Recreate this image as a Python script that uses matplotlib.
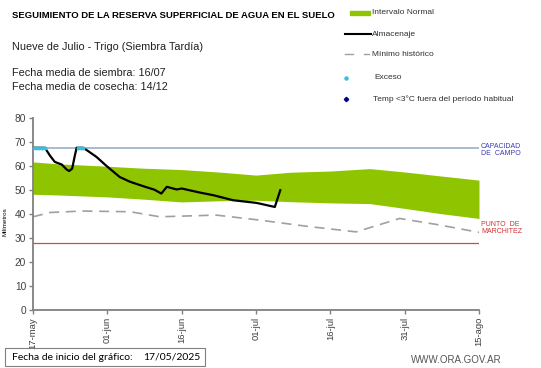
import matplotlib
matplotlib.use("Agg")
import matplotlib.pyplot as plt
from matplotlib.lines import Line2D
from matplotlib.patches import Rectangle

plt.rcParams['font.family'] = ['Liberation Sans', 'DejaVu Sans']

# days counted from 17-may
tick_days = [0, 15, 30, 45, 60, 75, 90]
tick_labels = ['17-may', '01-jun', '16-jun', '01-jul', '16-jul', '31-jul', '15-ago']

# normal interval (green band)
band_days = [0, 5, 15, 22, 30, 38, 45, 52, 60, 68, 75, 82, 90]
band_upper = [61.8, 61.0, 60.0, 59.2, 58.6, 57.5, 56.3, 57.5, 58.0, 59.0, 57.6, 56.0, 54.2]
band_lower = [48.3, 48.0, 47.2, 46.3, 45.1, 45.6, 45.8, 45.2, 44.7, 44.4, 42.4, 40.3, 38.2]

# minimo historico
min_days = [0, 3.5, 10, 19.6, 25.6, 33.7, 37, 45.8, 55, 65.2, 74, 82, 90]
min_vals = [38.9, 40.7, 41.3, 41.0, 38.9, 39.4, 39.6, 37.5, 35.0, 32.6, 38.2, 35.5, 32.4]

# almacenaje
alm_days = [0, 2.4, 3.4, 4.4, 5.8, 6.8, 7.3, 7.9, 8.4, 8.8, 10.1, 11.0, 12.8, 14.9, 17.5, 19.6, 22.5,
            24.5, 25.9, 27.0, 29.0, 30.0, 33.7, 36.4, 40.4, 45.1, 48.8, 49.9]
alm_vals = [67.7, 67.7, 64.5, 61.8, 60.7, 58.6, 58.0, 59.0, 64.0, 67.7, 67.7, 66.5, 63.9, 60.0, 55.5,
            53.5, 51.5, 50.2, 48.6, 51.4, 50.3, 50.7, 49.0, 47.9, 45.8, 44.7, 43.0, 50.0]

# excess points
exc_days = [0, 0.6, 1.2, 1.8, 2.4, 9.0, 9.6, 10.1]
exc_vals = [67.7, 67.7, 67.7, 67.7, 67.7, 67.7, 67.7, 67.7]

capacidad = 67.7
marchitez = 28.0

W, H = 541, 368
fig = plt.figure(figsize=(W / 100, H / 100), dpi=100)


def fx(px):
    return px / W


def fy(py):
    return 1 - py / H


ax = fig.add_axes([fx(33), fy(310), fx(479) - fx(33), fy(118.3) - fy(310)])

ax.fill_between(band_days, band_lower, band_upper, color='#8fc500', linewidth=0)
ax.axhline(capacidad, color='#a3b5cc', linewidth=1.3)
ax.axhline(marchitez, color='#c0504d', linewidth=0.9)
ax.plot(min_days, min_vals, color='#a0a0a0', linewidth=1.2, dashes=(6, 4))
ax.plot(alm_days, alm_vals, color='black', linewidth=1.6, zorder=3)
ax.scatter(exc_days, exc_vals, color='#33c0e0', s=8, zorder=4, linewidths=0)

ax.set_xlim(0, 90)
ax.set_ylim(0, 80)
ax.set_xticks(tick_days)
ax.set_xticklabels(tick_labels, rotation=90, fontsize=6.8, color='#404040')
ax.set_yticks(range(0, 81, 10))
ax.tick_params(axis='y', labelsize=7.3, colors='#404040', length=3, width=1, color='#808080', pad=2)
ax.tick_params(axis='x', length=3, width=1, color='#808080', pad=2)
for s in ['top', 'right']:
    ax.spines[s].set_visible(False)
for s in ['left', 'bottom']:
    ax.spines[s].set_color('#808080')
    ax.spines[s].set_linewidth(1.3)
ax.set_ylabel('Milímetros', fontsize=4.5, labelpad=2)
ax.yaxis.set_label_coords(-0.058, 0.46)

# right side labels
fig.text(fx(481), fy(150), 'CAPACIDAD\nDE  CAMPO', fontsize=5, color='#3a3ab8', va='center', ha='left',
         linespacing=1.1)
fig.text(fx(481), fy(228), 'PUNTO  DE\nMARCHITEZ', fontsize=5, color='#d03030', va='center', ha='left',
         linespacing=1.1)

# texts
fig.text(fx(12), fy(15), 'SEGUIMIENTO DE LA RESERVA SUPERFICIAL DE AGUA EN EL SUELO', fontsize=6.8,
         fontweight='bold', va='center')
fig.text(fx(12), fy(47), 'Nueve de Julio - Trigo (Siembra Tardía)', fontsize=7.8, va='center', color='#202020')
fig.text(fx(12), fy(73), 'Fecha media de siembra: 16/07', fontsize=7.8, va='center', color='#202020')
fig.text(fx(12), fy(87), 'Fecha media de cosecha: 14/12', fontsize=7.8, va='center', color='#202020')

# legend
fig.add_artist(Rectangle((fx(350), fy(15)), fx(370) - fx(350), fy(11) - fy(15), color='#8fc500',
                         transform=fig.transFigure))
fig.add_artist(Line2D([fx(345), fx(371)], [fy(34), fy(34)], color='black', linewidth=1.5,
                      transform=fig.transFigure))
fig.add_artist(Line2D([fx(345), fx(353)], [fy(54), fy(54)], color='#a0a0a0', linewidth=1.0,
                      transform=fig.transFigure))
fig.add_artist(Line2D([fx(364), fx(369)], [fy(54), fy(54)], color='#a0a0a0', linewidth=1.0,
                      transform=fig.transFigure))
fig.add_artist(Line2D([fx(346)], [fy(77.5)], marker='o', markersize=2.2, color='#33c0e0', linestyle='none',
                      transform=fig.transFigure))
fig.add_artist(Line2D([fx(346)], [fy(99)], marker='D', markersize=2.2, color='#000090', linestyle='none',
                      transform=fig.transFigure))
leg_items = [('Intervalo Normal', 12.5, 372), ('Almacenaje', 34, 372), ('Mínimo histórico', 54.5, 372),
             ('Exceso', 77.5, 374), ('Temp <3°C fuera del período habitual', 99, 373)]
for label, py, px in leg_items:
    fig.text(fx(px), fy(py), label, fontsize=6, va='center', color='#303030')

# bottom box
fig.add_artist(Rectangle((fx(5), fy(366)), fx(205) - fx(5), fy(348) - fy(366), fill=False,
                         edgecolor='#808080', linewidth=0.8, transform=fig.transFigure))
fig.text(fx(12), fy(357), 'Fecha de inicio del gráfico:', fontsize=7.5, va='center', family='Lato')
fig.text(fx(143), fy(357), '17/05/2025', fontsize=7.5, va='center', family='Lato')
fig.text(fx(502), fy(360), 'WWW.ORA.GOV.AR', fontsize=7, va='center', ha='right', color='#555555')

fig.savefig('out.png', dpi=100)
